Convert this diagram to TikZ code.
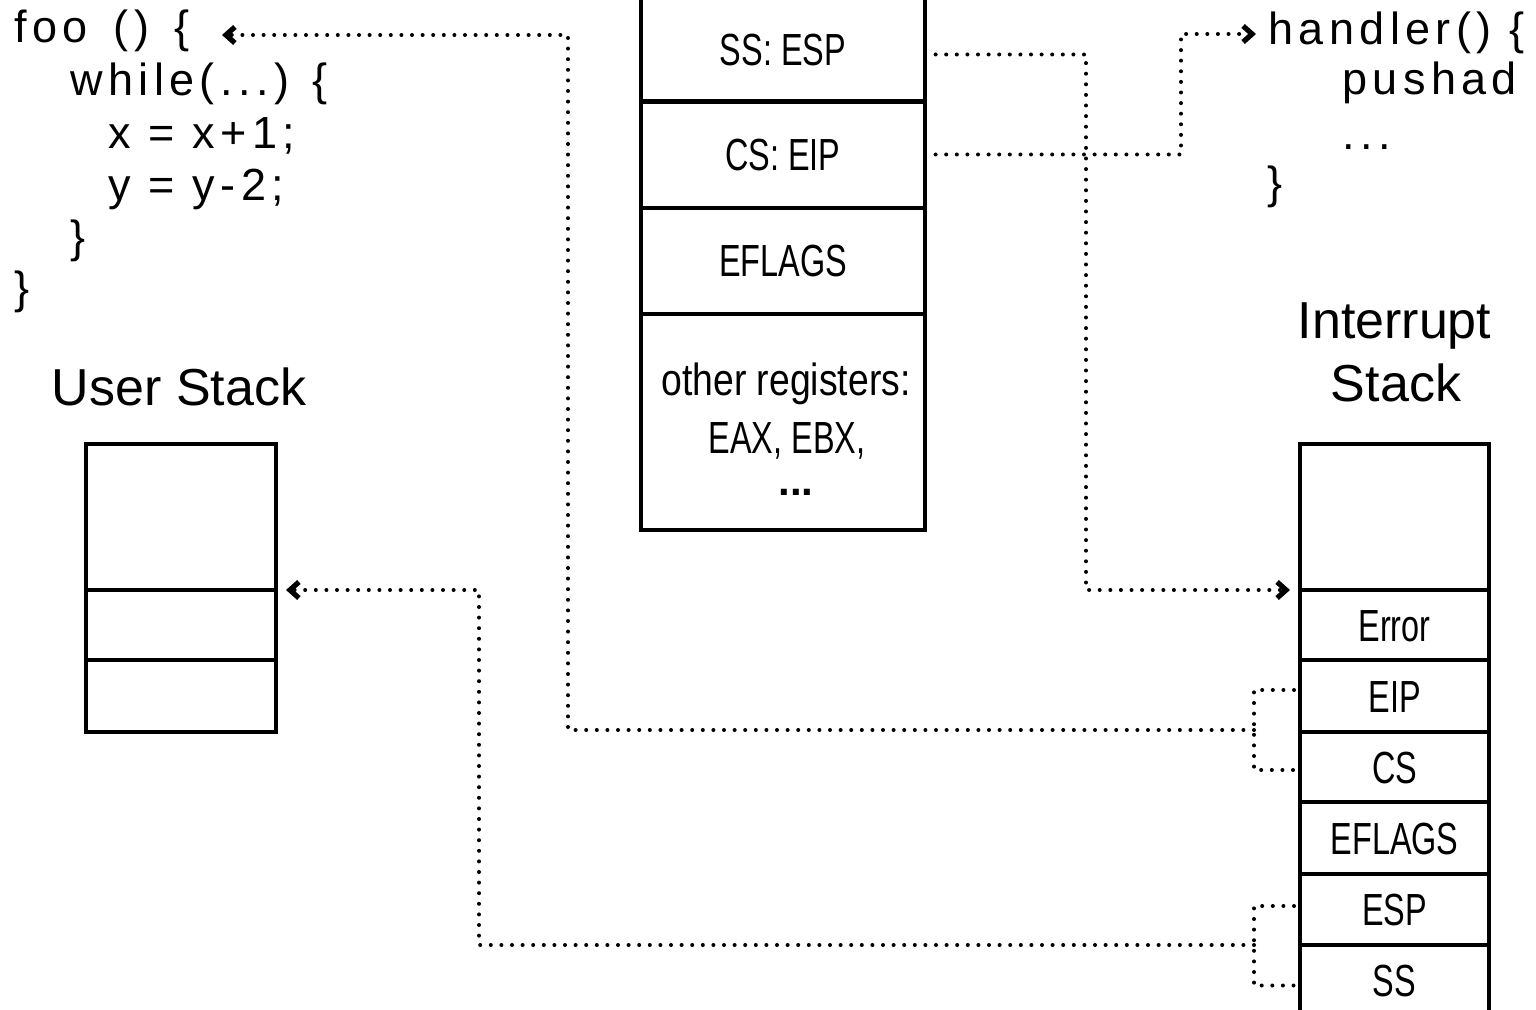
\documentclass[tikz,border=0pt]{standalone}
\usepackage{fontspec}
\setmainfont{Liberation Sans}
\newfontfamily\codefont[LetterSpace=12]{Liberation Sans}
\newfontfamily\condfont[FakeStretch=0.72]{Liberation Sans}
\newfontfamily\condwidefont[FakeStretch=0.83]{Liberation Sans}
\usetikzlibrary{arrows.meta}
\begin{document}
\begin{tikzpicture}[x=0.5pt,y=-0.5pt,
  boxcell/.style={draw,line width=1.7pt,inner sep=0pt,outer sep=0pt,
    font=\condfont\fontsize{22.5pt}{26pt}\selectfont,text height=16pt,text depth=0pt},
  ccell/.style={boxcell,minimum width=142pt},
  icell/.style={boxcell,minimum width=94.5pt},
  ucell/.style={boxcell,minimum width=95pt},
  codeline/.style={font=\codefont\fontsize{22.5pt}{26pt}\selectfont,anchor=base west,inner sep=0pt},
  stacktitle/.style={font=\fontsize{26pt}{30pt}\selectfont,anchor=base,inner sep=0pt},
  regtext/.style={inner sep=0pt,anchor=base},
  conn/.style={line width=2pt,line cap=round,dash pattern=on 0pt off 5.3pt},
  arrowed/.style={-{Straight Barb[length=4.5pt,width=8pt,line width=2.6pt]}}
]
\useasboundingbox (0,0) rectangle (1536,1010);
\clip (0,0) rectangle (1536,1010);

% code of foo
\node[codeline] (foo) at (14,43) {foo\hspace{4pt} ()\hspace{4pt} \{};
\node[codeline] (while) at (70,96) {while(...) \{};
\node[codeline] (xline) at (108,149) {x = x+1;};
\node[codeline] (yline) at (108,201) {y = y-2;};
\node[codeline] (wend) at (70,253) {\}};
\node[codeline] (fend) at (14,304) {\}};

% code of handler
\node[codeline] (handler) at (1268,45) {handler() \{};
\node[codeline] (pushad) at (1342,95) {pushad};
\node[codeline] (hdots) at (1342,150) {...};
\node[codeline] (hend) at (1267,199) {\}};

% central register box
\node[ccell,minimum height=52.5pt] (ssesp) at (783,49.5) {SS: ESP};
\node[ccell,minimum height=53.5pt] (cseip) at (783,154.5) {CS: EIP};
\node[ccell,minimum height=53pt] (eflags) at (783,261) {EFLAGS};
\node[ccell,minimum height=108pt] (others) at (783,422) {};
\node[regtext,font=\condwidefont\fontsize{22.5pt}{26pt}\selectfont] (otherreg) at (786,395) {other registers:};
\node[regtext,font=\condfont\fontsize{22.5pt}{26pt}\selectfont] (eaxebx) at (787,453) {EAX, EBX,};
\node[regtext,font=\bfseries\fontsize{21pt}{25pt}\selectfont] (odots) at (796,495) {...};

% user stack
\node[stacktitle] (utitle) at (179,406) {User Stack};
\node[ucell,minimum height=73pt] (utop) at (181,517) {};
\node[ucell,minimum height=35pt] (ucell2) at (181,625) {};
\node[ucell,minimum height=36pt] (ucell3) at (181,696) {};

% interrupt stack
\node[stacktitle] (ititle1) at (1394.5,339) {Interrupt};
\node[stacktitle] (ititle2) at (1396,401) {Stack};
\node[icell,minimum height=73pt] (itop) at (1394.5,517) {};
\node[icell,minimum height=35pt] (ierr) at (1394.5,625) {Error};
\node[icell,minimum height=36pt] (ieip) at (1394.5,696) {EIP};
\node[icell,minimum height=35pt] (ics) at (1394.5,767) {CS};
\node[icell,minimum height=36pt] (iefl) at (1394.5,838) {EFLAGS};
\node[icell,minimum height=35.5pt] (iesp) at (1394.5,909.5) {ESP};
\node[icell,minimum height=35.5pt] (iss) at (1394.5,980.5) {SS};

% bend points and free ends
\coordinate (ca) at (1181,34);
\coordinate (hin) at (1256,34);
\coordinate (cb) at (1086,590);
\coordinate (bc) at (1254,730);
\coordinate (cc) at (568,35);
\coordinate (fooin) at (222,35);
\coordinate (bd) at (1254,945);
\coordinate (cd) at (479,590);

% connectors
\draw[conn,arrowed] (cseip.east) -| (ca) -- (hin);
\draw[conn,arrowed,shorten >=5pt] ([yshift=-2.5pt]ssesp.east) -| (cb) -- (itop.south west);
\draw[conn,shorten <=3pt,shorten >=3pt] ([yshift=3pt]ieip.west) -| (bc) |- ([yshift=-1.5pt]ics.west);
\draw[conn,arrowed] (bc) -| (cc) -- (fooin);
\draw[conn,shorten <=3pt,shorten >=3pt] ([yshift=1.75pt]iesp.west) -| (bd) |- ([yshift=-2.5pt]iss.west);
\draw[conn,arrowed,shorten >=5pt] (bd) -| (cd) -- (ucell2.north east);
\end{tikzpicture}
\end{document}
